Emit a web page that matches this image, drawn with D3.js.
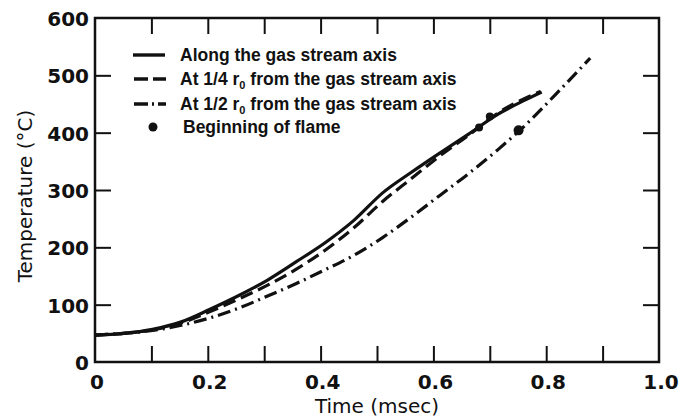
<!DOCTYPE html>
<html>
<head>
<meta charset="utf-8">
<script src="https://cdn.jsdelivr.net/npm/d3@7"></script>
<style>
  html, body { margin: 0; padding: 0; background: #fff; }
  svg { display: block; }
  text { fill: #111; }
</style>
</head>
<body>
<svg id="chart" width="688" height="419"></svg>
<script>
// Gas temperature vs. time at three radial positions
const xTicks = [0, 0.2, 0.4, 0.6, 0.8, 1.0];
const xTickLabels = ["0", "0.2", "0.4", "0.6", "0.8", "1.0"];
const yTicks = [0, 100, 200, 300, 400, 500, 600];

// Along the gas stream axis
const axisTime = [0, 0.051, 0.102, 0.153, 0.204, 0.255, 0.306, 0.357, 0.408, 0.459, 0.51, 0.561, 0.612, 0.663, 0.714, 0.765, 0.792];
const axisTemp = [47, 50, 57, 70, 92, 116, 143, 175, 208, 247, 295, 331, 365, 398, 432, 458, 471];

// At 1/4 r0 from the axis
const quarterTime = [0, 0.051, 0.102, 0.153, 0.204, 0.255, 0.306, 0.357, 0.408, 0.459, 0.51, 0.561, 0.612, 0.663, 0.714, 0.765, 0.79];
const quarterTemp = [47, 50, 56, 68, 88, 110, 134, 162, 195, 234, 280, 320, 360, 396, 434, 461, 472];

// At 1/2 r0 from the axis
const halfTime = [0, 0.051, 0.102, 0.153, 0.204, 0.255, 0.306, 0.357, 0.408, 0.459, 0.51, 0.561, 0.612, 0.663, 0.714, 0.765, 0.816, 0.878];
const halfTemp = [47, 50, 55, 64, 77, 94, 115, 137, 161, 186, 217, 253, 291, 329, 370, 415, 466, 530];

// Beginning of flame
const flameTime = [0.681, 0.700, 0.751];
const flameTemp = [409, 428, 404];

const svg = d3.select("#chart");
const plotLeft = 95, plotRight = 659, plotTop = 18, plotBottom = 362;

const x = d3.scaleLinear().domain([0, 1.0]).range([plotLeft, plotRight]);
const y = d3.scaleLinear().domain([0, 600]).range([plotBottom, plotTop]);

const ink = "#111";
const tickFont = "DejaVu Sans, sans-serif";

// frame
svg.append("rect")
  .attr("x", plotLeft).attr("y", plotTop)
  .attr("width", plotRight - plotLeft).attr("height", plotBottom - plotTop)
  .attr("fill", "none").attr("stroke", ink).attr("stroke-width", 2.5);

// inward ticks on all four sides
const tickLen = 16;
const xMinor = d3.range(1, 10).map(d => d / 10);
const yMinor = d3.range(1, 6).map(d => d * 100);

function styleTicks(g) {
  g.select(".domain").remove();
  g.selectAll("line").attr("stroke", ink).attr("stroke-width", 2);
}

svg.append("g")
  .attr("transform", `translate(0,${plotBottom})`)
  .call(d3.axisBottom(x).tickValues(xMinor).tickSize(-tickLen).tickFormat(""))
  .call(styleTicks);

svg.append("g")
  .attr("transform", `translate(0,${plotTop})`)
  .call(d3.axisTop(x).tickValues(xMinor).tickSize(-tickLen).tickFormat(""))
  .call(styleTicks);

svg.append("g")
  .attr("transform", `translate(${plotLeft},0)`)
  .call(d3.axisLeft(y).tickValues(yMinor).tickSize(-tickLen).tickFormat(""))
  .call(styleTicks);

svg.append("g")
  .attr("transform", `translate(${plotRight},0)`)
  .call(d3.axisRight(y).tickValues(yMinor).tickSize(-tickLen).tickFormat(""))
  .call(styleTicks);

// tick labels
svg.append("g").selectAll("text")
  .data(xTicks)
  .join("text")
  .attr("x", d => x(d) + 2)
  .attr("y", plotBottom + 27)
  .attr("text-anchor", "middle")
  .attr("font-family", tickFont)
  .attr("font-weight", "bold")
  .attr("font-size", 20)
  .text((d, i) => xTickLabels[i]);

svg.append("g").selectAll("text")
  .data(yTicks)
  .join("text")
  .attr("x", plotLeft - 6)
  .attr("y", d => y(d) + 8)
  .attr("text-anchor", "end")
  .attr("font-family", tickFont)
  .attr("font-weight", "bold")
  .attr("font-size", 20)
  .text(d => d);

// axis titles
svg.append("text")
  .attr("x", x(0.5))
  .attr("y", 413)
  .attr("text-anchor", "middle")
  .attr("font-family", tickFont)
  .attr("font-size", 20)
  .text("Time (msec)");

svg.append("text")
  .attr("transform", `translate(32,${(plotTop + plotBottom) / 2 + 6}) rotate(-90)`)
  .attr("text-anchor", "middle")
  .attr("font-family", tickFont)
  .attr("font-size", 20)
  .text("Temperature (°C)");

// curves
const line = d3.line()
  .x(d => x(d[0]))
  .y(d => y(d[1]))
  .curve(d3.curveMonotoneX);

const series = [
  { t: axisTime, v: axisTemp, dash: null },
  { t: quarterTime, v: quarterTemp, dash: "13,6" },
  { t: halfTime, v: halfTemp, dash: "13,5,2,5" }
];

svg.append("g").selectAll("path")
  .data(series)
  .join("path")
  .attr("d", s => line(d3.zip(s.t, s.v)))
  .attr("fill", "none")
  .attr("stroke", ink)
  .attr("stroke-width", 3.2)
  .attr("stroke-dasharray", s => s.dash);

// flame onset markers
svg.append("g").selectAll("circle")
  .data(d3.zip(flameTime, flameTemp))
  .join("circle")
  .attr("cx", d => x(d[0]))
  .attr("cy", d => y(d[1]))
  .attr("r", (d, i) => i === 2 ? 5 : 4)
  .attr("fill", ink);

// legend
const legendFont = "Liberation Sans, Arial, sans-serif";
const legend = svg.append("g");
const rows = [
  { y: 55, kind: "solid" },
  { y: 79, kind: "dash" },
  { y: 104, kind: "dashdot" },
  { y: 127, kind: "dot" }
];

rows.forEach(r => {
  if (r.kind === "solid") {
    legend.append("line").attr("x1", 133).attr("x2", 165).attr("y1", r.y).attr("y2", r.y)
      .attr("stroke", ink).attr("stroke-width", 3.4);
  } else if (r.kind === "dash") {
    legend.append("line").attr("x1", 134).attr("x2", 166).attr("y1", r.y).attr("y2", r.y)
      .attr("stroke", ink).attr("stroke-width", 3.4).attr("stroke-dasharray", "14,5");
  } else if (r.kind === "dashdot") {
    legend.append("line").attr("x1", 134).attr("x2", 166).attr("y1", r.y).attr("y2", r.y)
      .attr("stroke", ink).attr("stroke-width", 3.4).attr("stroke-dasharray", "14,4,2,4");
  } else {
    legend.append("circle").attr("cx", 153).attr("cy", r.y).attr("r", 4.5).attr("fill", ink);
  }
});

function legendText(yPos, xPos) {
  return legend.append("text")
    .attr("x", xPos).attr("y", yPos + 6)
    .attr("font-family", legendFont)
    .attr("font-weight", "bold")
    .attr("font-size", 17.5);
}

legendText(55, 180).text("Along the gas stream axis");

const t2 = legendText(79, 180);
t2.append("tspan").text("At 1/4 r");
t2.append("tspan").attr("font-size", 11).attr("dy", 4).text("0");
t2.append("tspan").attr("dy", -4).text(" from the gas stream axis");

const t3 = legendText(104, 180);
t3.append("tspan").text("At 1/2 r");
t3.append("tspan").attr("font-size", 11).attr("dy", 4).text("0");
t3.append("tspan").attr("dy", -4).text(" from the gas stream axis");

legendText(127, 183).text("Beginning of flame");
</script>
</body>
</html>
